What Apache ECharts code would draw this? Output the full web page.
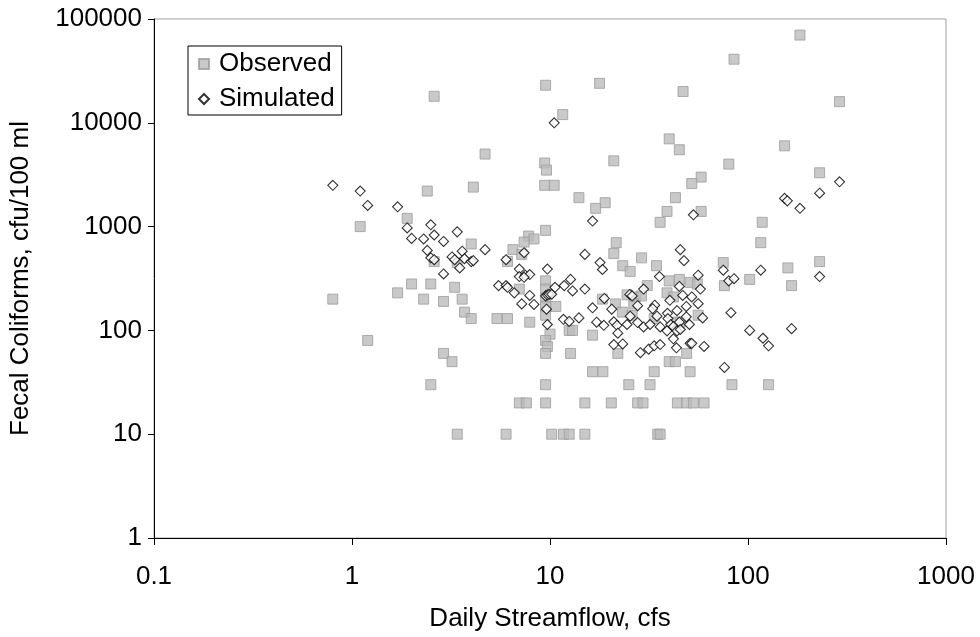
<!DOCTYPE html>
<html>
<head>
<meta charset="utf-8">
<script src="https://cdn.jsdelivr.net/npm/echarts@6/dist/echarts.min.js"></script>
<style>
html,body{margin:0;padding:0;background:#fff;}
#chart{width:980px;height:637px;}
</style>
</head>
<body>
<div id="chart"></div>
<script>
// ---- Data ----
const xTickLabels = ['0.1', '1', '10', '100', '1000'];
const yTickLabels = ['1', '10', '100', '1000', '10000', '100000'];
const xAxisTitle = 'Daily Streamflow, cfs';
const yAxisTitle = 'Fecal Coliforms, cfu/100 ml';
const seriesNames = ['Observed', 'Simulated'];

const observedFlow = [183,85,17.8,9.5,47,2.6,290,11.6,40,153,45,4.7,21,9.4,80,9.6,230,58,52,9.4,10.5,4.1,2.4,14,43,19,17,39,58,1.9,36,118,1.1,9.5,7.8,8.3,7.4,21.6,116,4.0,6.5,21,7.2,29,2.6,6.1,3.4,230,75,23.3,34.5,159,25.4,102,40,45,9.5,51,55.5,2.0,2.5,76,31,166,3.3,9.5,7.0,1.7,39,42,24.5,27,29,0.8,2.3,3.6,18.4,9.5,2.9,21.4,26.5,9.5,10.7,3.7,23.2,9.5,26,56,33.6,4.0,5.4,6.1,43.5,45.5,7.9,12.5,13,10,16.4,1.2,9.5,9.7,2.9,9.5,12.7,22,49,3.2,40,43,16.4,18.5,33.6,51,2.5,9.5,25,32,83,127,7.0,7.6,9.5,15,20.4,27.7,29.5,44,49,53,60,3.4,6.0,10.2,11.7,12.5,15,35,36];
const observedFC = [70000,41000,24000,23000,20000,18000,16000,12000,7000,6000,5500,5000,4300,4100,4000,3500,3300,3000,2600,2500,2500,2400,2200,1900,1900,1700,1500,1400,1400,1200,1100,1100,1000,920,810,760,710,700,700,680,600,550,540,500,460,460,450,460,450,420,420,400,370,310,300,310,300,290,280,280,280,270,270,270,260,250,250,230,230,210,220,210,215,200,200,200,200,205,190,180,180,170,170,150,150,140,140,140,130,130,130,130,120,120,120,100,100,92,90,80,80,70,60,60,60,60,60,50,50,50,40,40,40,40,30,30,30,30,30,30,20,20,20,20,20,20,20,20,20,20,20,10,10,10,10,10,10,10,10];

const simulatedFlow = [0.8,1.1,1.2,1.7,1.9,2.0,2.3,2.6,2.5,2.9,3.4,2.4,2.5,2.6,3.2,3.3,3.5,3.6,3.7,4.0,4.1,2.9,4.7,5.5,6.0,6.1,6.6,6.0,7.4,7.0,7.0,7.5,7.9,7.4,7.9,7.2,8.3,9.7,9.5,9.7,9.9,10.2,9.6,9.7,10.6,11.8,12.7,13.0,15,11.7,12.5,14,10.5,16.4,15,17.9,18.4,16.4,18.8,20.5,17.2,18.7,21,21.8,22,21,23.3,24.5,25.3,26,25.4,27.7,29.7,32,27.7,33.8,33,34.7,29.7,35.7,45.5,47.5,45,56,57.5,53,46.8,52,40.3,56,39.2,43.8,48.8,59,39.4,40.7,45,48.8,50.6,36,39,42,43.8,45.5,42,51,52,60,28.6,31.5,33.6,36,43.5,75,80,85,116,82,102,119,127,76,166,230,153,158,183,230,290];
const simulatedFC = [2500,2200,1600,1550,970,770,760,830,1040,720,890,590,500,480,510,480,400,580,490,460,470,350,600,270,270,260,230,480,560,390,330,340,345,325,217,180,178,390,215,220,223,223,160,114,260,270,310,240,250,128,122,132,10000,1130,540,450,386,165,203,160,120,112,121,112,94,73,74,114,222,215,137,119,108,114,173,175,162,137,250,330,600,470,265,340,250,1300,217,210,195,181,146,155,170,132,130,114,120,135,114,108,99,109,99,102,83,75,75,70,61,66,71,73,68,380,300,315,380,148,100,84,71,44,104,330,1870,1770,1500,2100,2700];

const observedData = observedFlow.map((x, i) => [x, observedFC[i]]);
const simulatedData = simulatedFlow.map((x, i) => [x, simulatedFC[i]]);

function tickLabel(list) {
  return function (v) {
    const exp = Math.round(Math.log10(v));
    const s = list.find(t => Math.round(Math.log10(parseFloat(t))) === exp);
    return s !== undefined ? s : '';
  };
}

const FONT = '"Liberation Sans", Arial, Helvetica, sans-serif';
const chart = echarts.init(document.getElementById('chart'), null, { renderer: 'canvas' });

chart.setOption({
  animation: false,
  backgroundColor: '#ffffff',
  textStyle: { fontFamily: FONT },
  grid: {
    left: 153, right: 34, top: 19, bottom: 98,
    show: true, borderColor: '#a0a0a0', borderWidth: 1, backgroundColor: 'transparent'
  },
  legend: {
    data: [
      { name: seriesNames[0], icon: 'rect' },
      { name: seriesNames[1], icon: 'diamond' }
    ],
    orient: 'vertical',
    left: 188, top: 46,
    padding: [5, 7, 3, 10],
    itemGap: 9,
    itemWidth: 10, itemHeight: 10,
    borderColor: '#000', borderWidth: 1,
    backgroundColor: '#fff',
    textStyle: { fontSize: 26, color: '#000', fontFamily: FONT, padding: [0, 0, 0, 5] }
  },
  xAxis: {
    type: 'log', logBase: 10, min: 0.1, max: 1000,
    name: xAxisTitle, nameLocation: 'middle', nameGap: 68,
    nameTextStyle: { fontSize: 26, color: '#000', fontFamily: FONT },
    axisLine: { show: true, onZero: false, lineStyle: { color: '#000', width: 1 } },
    axisTick: { show: true, inside: false, length: 7, lineStyle: { color: '#000' } },
    axisLabel: { fontSize: 26, color: '#000', margin: 26, formatter: tickLabel(xTickLabels), fontFamily: FONT },
    splitLine: { show: false },
    minorTick: { show: false }
  },
  yAxis: {
    type: 'log', logBase: 10, min: 1, max: 100000,
    name: yAxisTitle, nameLocation: 'middle', nameGap: 120, nameRotate: 90,
    nameTextStyle: { fontSize: 26, color: '#000', fontFamily: FONT },
    axisLine: { show: true, onZero: false, lineStyle: { color: '#000', width: 1 } },
    axisTick: { show: true, inside: false, length: 6, lineStyle: { color: '#000' } },
    axisLabel: { fontSize: 26, color: '#000', margin: 12, formatter: tickLabel(yTickLabels), fontFamily: FONT },
    splitLine: { show: false }
  },
  series: [
    {
      name: seriesNames[0], type: 'scatter', data: observedData,
      symbol: 'rect', symbolSize: 10,
      itemStyle: { color: '#bbbbbb', borderColor: '#9c9c9c', borderWidth: 1 },
      z: 2
    },
    {
      name: seriesNames[1], type: 'scatter', data: simulatedData,
      symbol: 'diamond', symbolSize: 10,
      itemStyle: { color: '#ffffff', borderColor: '#000000', borderWidth: 1.1 },
      z: 3
    }
  ]
});
</script>
</body>
</html>
